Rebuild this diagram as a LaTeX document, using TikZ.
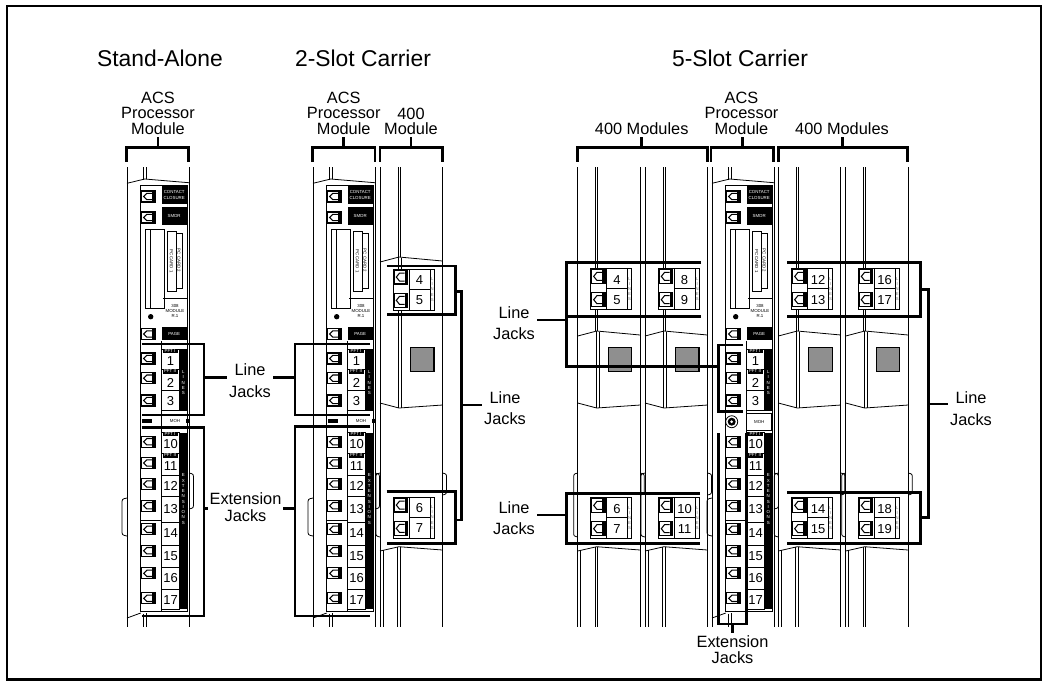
\documentclass[tikz,border=0pt]{standalone}
\usepackage{fontspec}
\setmainfont{Liberation Sans}
\tikzstyle{outl}=[line width=0.45pt]
\tikzstyle{brk}=[line width=1.4pt]
\tikzstyle{ttl}=[font=\fontsize{13}{15}\selectfont, inner sep=0pt, anchor=base]
\tikzstyle{lbl}=[font=\fontsize{9.3}{8.8}\selectfont, align=center, inner sep=1pt, anchor=north]
\tikzstyle{jacklbl}=[font=\fontsize{9.3}{12.4}\selectfont, align=center, inner sep=1pt, anchor=north]
\tikzstyle{extlbl}=[font=\fontsize{9.3}{9.5}\selectfont, align=center, inner sep=1pt, anchor=north]
\tikzstyle{numf}=[font=\fontsize{7.4}{8}\selectfont, inner sep=0pt]
\tikzstyle{tinyw}=[font=\fontsize{2.5}{3}\selectfont, text=white, inner sep=0pt, align=center]
\tikzstyle{tinyb}=[font=\fontsize{2.5}{3}\selectfont, inner sep=0pt, align=center]
\tikzstyle{tinyg}=[font=\fontsize{2.4}{2.9}\selectfont, text=black!55, inner sep=0pt, align=center]
\definecolor{sqgray}{gray}{0.56}

% RJ jack seen from the front, optional vertical stretch
\newcommand{\jackicon}[3][1]{%
  \begin{scope}[shift={(#2,#3)}, yscale=#1]
    \draw[line width=0.7pt] (0,0) rectangle (13.3,11);
    \fill (10.3,0) rectangle (13.3,11);
    \draw[line width=0.6pt] (10.3,2.3) -- (5.2,2.3) -- (2,5.5) -- (5.2,8.7) -- (10.3,8.7);
  \end{scope}}

% two line jacks of a 400 module
\newcommand{\lineunit}[5]{%
  \begin{scope}[shift={(#2,#3)}]
    \filldraw[outl, fill=white] (0,0) rectangle (41,41);
    \jackicon[1.25]{1}{1.2}
    \jackicon[1.25]{1}{24.5}
    \draw[outl] (16,0) rectangle (36.7,20.5);
    \draw[outl] (16,20.5) rectangle (36.7,41);
    \node[numf] (#1-a) at (26.3,11.5) {#4};
    \node[numf] (#1-b) at (26.3,31.5) {#5};
    \node[tinyg] (#1-l) at (38.9,20.5) {L\\I\\N\\E\\S};
  \end{scope}}

% empty 400 module housing, left edge and top of cover
\newcommand{\fourmodule}[2]{%
  \begin{scope}[shift={(#1,0)}]
    \draw[outl] (0,167) -- (0,627);
    \draw[outl] (62.5,167) -- (62.5,627);
    \draw[outl] (18,167) -- (18,#2);
    \draw[outl] (20,167) -- (20,#2);
    \draw[outl] (0,#2+5) -- (19,#2) -- (62.5,#2+4);
    \draw[outl] (18.5,#2) -- (18.5,408);
    \draw[outl] (21.5,#2+0.5) -- (21.5,407.5);
    \draw[outl] (0,403) -- (19,408) -- (62.5,405);
    \filldraw[fill=sqgray, draw=black, line width=0.6pt] (30.5,347.3) rectangle (54,371.7);
    \draw[outl] (0,473) .. controls (-4,474) .. (-4,478) -- (-4,532) .. controls (-4,536) .. (0,537);
    \draw[outl] (62.5,473) .. controls (66.5,474) .. (66.5,478) -- (66.5,490) .. controls (66.5,494) .. (62.5,495);
    \draw[outl] (0,551) -- (19,546.7) -- (62.5,550);
    \draw[outl] (3,550.3) -- (3,627);
    \draw[outl] (17.5,547) -- (17.5,627);
    \draw[outl] (20,547) -- (20,627);
  \end{scope}}

% ACS processor module, drawn at the stand-alone place and shifted
\newcommand{\acsmodule}[2]{%
  \begin{scope}[shift={(#2,0)}]
    % housing
    \draw[outl] (127,167) -- (127,627);
    \draw[outl] (189,167) -- (189,627);
    \draw[outl] (143.5,167) -- (143.5,179.8);
    \draw[outl] (146,167) -- (146,179.2);
    \draw[outl] (127,183.3) -- (144.7,179) -- (189,182.7);
    \draw[outl] (127,618) -- (140.7,613);
    \draw[outl] (143.5,613.5) -- (143.5,627);
    \draw[outl] (146,613) -- (146,627);
    \draw[outl] (127,498) .. controls (122,499) .. (122,504) -- (122,530) .. controls (122,535) .. (127,536);
    \draw[outl] (189,473) .. controls (193.5,474) .. (193.5,479) -- (193.5,503) .. controls (193.5,508) .. (189,509);
    % faceplate
    \draw[outl] (140.7,185) rectangle (187,611);
    \jackicon{141.7}{191}
    \jackicon{141.7}{212}
    \fill (161.7,186) rectangle (186.7,204);
    \node[tinyw] (#1-cc) at (174.2,195) {CONTACT\\CLOSURE};
    \fill (161.7,207) rectangle (186.7,225);
    \node[tinyw] (#1-smdr) at (174.2,216) {SMDR};
    \draw[outl] (145.7,229) rectangle (164,308);
    \draw[outl] (150.5,229) -- (150.5,308);
    \draw[outl] (167,231) rectangle (176,291);
    \draw[outl] (176,233) rectangle (182,288);
    \node[tinyb, rotate=-90] (#1-pca) at (171.5,261) {PC CARD 1};
    \node[tinyb, rotate=-90] (#1-pcb) at (179,260.5) {PC CARD 2};
    \draw[outl] (163,298) -- (187,298);
    \node[tinyb] (#1-rev) at (175,311) {308\\MODULE\\R.1};
    \fill (150.7,316.7) circle (2.7);
    \jackicon{141.7}{328.5}
    \fill (161.7,327) rectangle (186.7,340);
    \node[tinyw] (#1-page) at (174.2,333.5) {PAGE};
    % line jacks 1-3
    \draw[outl] (161.7,341) -- (161.7,611);
    \draw[outl] (161.7,349.3) rectangle (179.3,410.7);
    \draw[outl] (161.7,369.3) -- (179.3,369.3);
    \draw[outl] (161.7,390.7) -- (179.3,390.7);
    \fill (162.5,348.8) rectangle (177.5,353);
    \node[tinyw] (#1-pfa) at (170,351) {PFT I};
    \fill (162.5,369.3) rectangle (177.5,373.5);
    \node[tinyw] (#1-pfb) at (170,371.4) {PFT II};
    \node[numf] (#1-n1) at (170.5,361.5) {1};
    \node[numf] (#1-n2) at (170.5,382.5) {2};
    \node[numf] (#1-n3) at (170.5,401) {3};
    \fill (179.3,349.3) rectangle (187.3,410.7);
    \node[tinyw] (#1-lns) at (183.3,382.5) {L\\I\\N\\E\\S};
    \jackicon{141.7}{353}
    \jackicon{141.7}{372.7}
    \jackicon{141.7}{395}
    % extension jacks 10-17
    \draw[outl] (161.7,432.7) rectangle (179.3,609.3);
    \draw[outl] (161.7,453.3) -- (179.3,453.3);
    \draw[outl] (161.7,475) -- (179.3,475);
    \draw[outl] (161.7,496) -- (179.3,496);
    \draw[outl] (161.7,522.7) -- (179.3,522.7);
    \draw[outl] (161.7,545) -- (179.3,545);
    \draw[outl] (161.7,567.3) -- (179.3,567.3);
    \draw[outl] (161.7,589.3) -- (179.3,589.3);
    \fill (162.5,432.2) rectangle (177.5,436.4);
    \node[tinyw] (#1-pfc) at (170,434.3) {PFT I};
    \fill (162.5,453.3) rectangle (177.5,457.5);
    \node[tinyw] (#1-pfd) at (170,455.4) {PFT II};
    \node[numf] (#1-n10) at (170.5,444) {10};
    \node[numf] (#1-n11) at (170.5,466) {11};
    \node[numf] (#1-n12) at (170.5,485.5) {12};
    \node[numf] (#1-n13) at (170.5,509.5) {13};
    \node[numf] (#1-n14) at (170.5,533.5) {14};
    \node[numf] (#1-n15) at (170.5,556) {15};
    \node[numf] (#1-n16) at (170.5,578.3) {16};
    \node[numf] (#1-n17) at (170.5,600) {17};
    \fill (179.3,432.7) rectangle (187.3,609.3);
    \node[tinyw] (#1-ext) at (183.3,499) {E\\X\\T\\E\\N\\S\\I\\O\\N\\S};
    \jackicon{141.7}{436.2}
    \jackicon{141.7}{457.5}
    \jackicon{141.7}{478.5}
    \jackicon{141.7}{500.2}
    \jackicon{141.7}{523.8}
    \jackicon{141.7}{545.2}
    \jackicon{141.7}{567.8}
    \jackicon{141.7}{592.8}
    \draw[outl] (140.7,520) -- (161.7,520);
  \end{scope}}

% strip between line and extension jacks
\newcommand{\mohrow}[2]{%
  \begin{scope}[shift={(#2,0)}]
    \fill (141.5,419) rectangle (152,422.5);
    \draw[outl] (161.7,418.5) -- (161.7,422.5);
    \node[tinyb] (#1-moh) at (175,420.7) {MOH};
    \draw[outl] (186.5,418.5) -- (186.5,422.5);
    \draw[outl] (188,418.5) -- (188,422.5);
  \end{scope}}

\begin{document}
\begin{tikzpicture}[x=0.02cm,y=-0.02cm]
\useasboundingbox (0,0) rectangle (1043,681);
\draw[line width=1.2pt] (7,6) rectangle (1041,679.5);

% titles
\node[ttl] (tsa) at (160,66) {Stand-Alone};
\node[ttl] (t2s) at (363,66) {2-Slot Carrier};
\node[ttl] (t5s) at (740,66) {5-Slot Carrier};

% module labels
\node[lbl] (lsa) at (158,89.9) {ACS\\Processor\\Module};
\node[lbl] (l2a) at (343.7,89.9) {ACS\\Processor\\Module};
\node[lbl] (l2f) at (411,105.5) {400\\Module};
\node[lbl, anchor=base] (l5f) at (641.7,134.3) {400 Modules};
\node[lbl] (l5a) at (741.5,89.9) {ACS\\Processor\\Module};
\node[lbl, anchor=base] (l5g) at (842,134.3) {400 Modules};

% top brackets
\coordinate (bsa) at (158,147.3);
\coordinate (b2a) at (343.7,147.3);
\coordinate (b2f) at (411,147.3);
\coordinate (b5f) at (641.7,147.3);
\coordinate (b5a) at (742.7,147.3);
\coordinate (b5g) at (842.3,147.3);
\draw[brk] (126.7,161.7) -- (126.7,147.3) -- (188.3,147.3) -- (188.3,161.7);
\draw[brk] (312.3,161.7) -- (312.3,147.3) -- (375,147.3) -- (375,161.7);
\draw[brk] (380,161.7) -- (380,147.3) -- (442.3,147.3) -- (442.3,161.7);
\draw[brk] (577.7,161.7) -- (577.7,147.3) -- (707.7,147.3) -- (707.7,161.7);
\draw[brk] (711,161.7) -- (711,147.3) -- (773.3,147.3) -- (773.3,161.7);
\draw[brk] (778.3,161.7) -- (778.3,147.3) -- (907.7,147.3) -- (907.7,161.7);
\draw[brk] (bsa) -- (bsa |- lsa.south);
\draw[brk] (b2a) -- (b2a |- l2a.south);
\draw[brk] (b2f) -- (b2f |- l2f.south);
\draw[brk] (b5f) -- (b5f |- l5f.south);
\draw[brk] (b5a) -- (b5a |- l5a.south);
\draw[brk] (b5g) -- (b5g |- l5g.south);

% modules
\acsmodule{sa}{0}
\mohrow{sa}{0}
\acsmodule{ta}{186}
\mohrow{ta}{186}
\fourmodule{380}{257}
\fourmodule{577.7}{331}
\fourmodule{645}{331}
\acsmodule{fa}{585}
\fourmodule{778.3}{331}
\fourmodule{845.7}{331}

% 5-slot processor: music on hold jack
\draw[outl] (731.7,421.7) circle (6);
\fill (731.7,421.7) circle (4);
\fill[white] (731.7,421.7) circle (1.5);
\draw[outl] (746.7,413.5) rectangle (771.7,430);
\node[tinyb] (fa-mohb) at (759.2,421.7) {MOH};

% line jacks of the 400 modules
\lineunit{u4}{393.3}{269}{4}{5}
\lineunit{u6}{393.3}{497}{6}{7}
\lineunit{v4}{590.7}{268.3}{4}{5}
\lineunit{v8}{658.3}{268.3}{8}{9}
\lineunit{v6}{590.7}{497.3}{6}{7}
\lineunit{v10}{658.3}{497.3}{10}{11}
\lineunit{v12}{791.7}{268.3}{12}{13}
\lineunit{v16}{858.3}{268.3}{16}{17}
\lineunit{v14}{791.7}{497.3}{14}{15}
\lineunit{v18}{858.3}{497.3}{18}{19}

% stand-alone and 2-slot callouts
\draw[brk] (141.7,344) -- (204,344) -- (204,415) -- (141.7,415);
\draw[brk] (141.7,427.3) -- (204,427.3) -- (204,616) -- (141.7,616);
\draw[brk] (370,344) -- (295,344) -- (295,415) -- (370,415);
\draw[brk] (370,426.7) -- (295,426.7) -- (295,616) -- (370,616);
\node[jacklbl] (ljsa) at (250,361.5) {Line\\Jacks};
\node[extlbl] (ejsa) at (245.5,491) {Extension\\Jacks};
\coordinate (bsl) at (204,377.3);
\coordinate (btl) at (295,377.3);
\coordinate (bse) at (204,508.3);
\coordinate (bte) at (295,508.3);
\draw[brk] (bsl) -- (bsl -| ljsa.west);
\draw[brk] (btl) -- (btl -| ljsa.east);
\draw[brk] (bse) -- (bse -| ejsa.west);
\draw[brk] (bte) -- (bte -| ejsa.east);

% 2-slot 400 module callout
\draw[brk] (386.7,266) -- (455.7,266) -- (455.7,314.3) -- (386.7,314.3);
\draw[brk] (386.7,491.7) -- (455.7,491.7) -- (455.7,543.3) -- (386.7,543.3);
\draw[brk] (455.7,291.7) -- (461.7,291.7) -- (461.7,520) -- (455.7,520);
\node[jacklbl] (lj2r) at (505,389.2) {Line\\Jacks};
\coordinate (b2r) at (461.7,405);
\draw[brk] (b2r) -- (b2r -| lj2r.west);

% 5-slot callouts
\draw[brk] (701,262.3) -- (566.7,262.3) -- (566.7,366.7) -- (718.3,366.7);
\draw[brk] (566.7,316.7) -- (701,316.7);
\draw[brk] (743,345) -- (718.3,345) -- (718.3,411.7) -- (743,411.7);
\draw[brk] (700,493.3) -- (566.7,493.3) -- (566.7,543.3) -- (700,543.3);
\draw[brk] (718.3,433) -- (718.3,624) -- (746.7,624) -- (746.7,433);
\draw[brk] (787,262.3) -- (920.7,262.3) -- (920.7,316.7) -- (787,316.7);
\draw[brk] (787,492.7) -- (920.7,492.7) -- (920.7,543.3) -- (787,543.3);
\draw[brk] (920.7,289.3) -- (928.3,289.3) -- (928.3,517.3) -- (920.7,517.3);
\node[jacklbl] (lj5a) at (514,304.2) {Line\\Jacks};
\node[jacklbl] (lj5b) at (514,499.2) {Line\\Jacks};
\node[jacklbl] (lj5c) at (971,389.9) {Line\\Jacks};
\node[extlbl] (ej5) at (732.5,633.3) {Extension\\Jacks};
\coordinate (b5l) at (566.7,320);
\coordinate (b5m) at (566.7,515);
\coordinate (b5r) at (928.3,404);
\coordinate (b5e) at (732.5,624);
\draw[brk] (b5l) -- (b5l -| lj5a.east);
\draw[brk] (b5m) -- (b5m -| lj5b.east);
\draw[brk] (b5r) -- (b5r -| lj5c.west);
\draw[brk] (b5e) -- (ej5.north);
\end{tikzpicture}
\end{document}
